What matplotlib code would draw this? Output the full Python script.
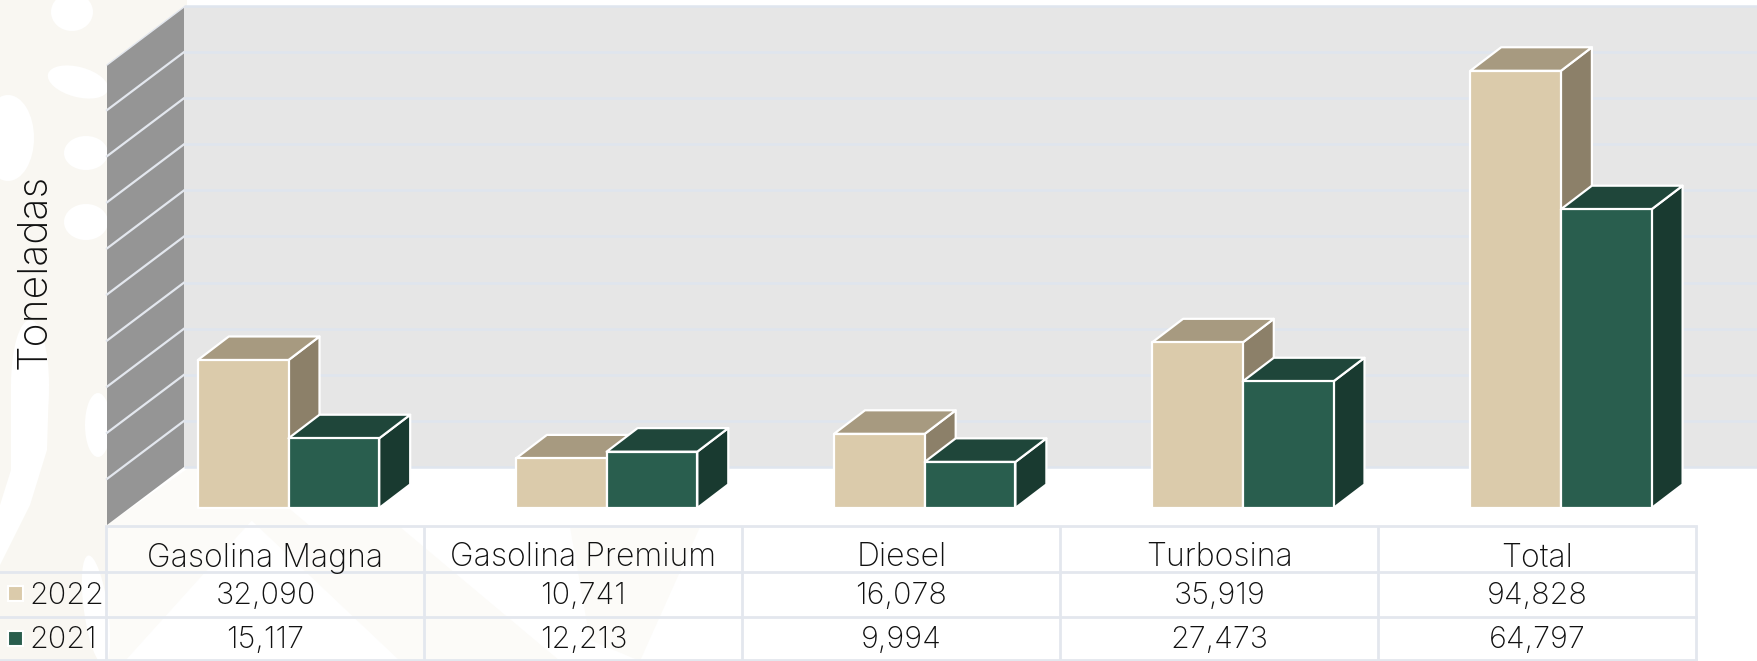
import matplotlib
matplotlib.use("Agg")
import matplotlib.pyplot as plt
from matplotlib.patches import Polygon, Rectangle, Ellipse

categories = ["Gasolina Magna", "Gasolina Premium", "Diesel", "Turbosina", "Total"]
series_2022 = [32090, 10741, 16078, 35919, 94828]
series_2021 = [15117, 12213, 9994, 27473, 64797]
series_names = ["2022", "2021"]
y_ticks = list(range(0, 100001, 10000))

W, H = 1758, 661
FONT = "Inter"
TXT = "#111111"
TAN, TAN_TOP, TAN_SIDE = "#dbcbab", "#a79a80", "#8c8069"
GRN, GRN_TOP, GRN_SIDE = "#295e4e", "#1f463a", "#193a30"
LINE = "#e3e7ee"
GRID = "#dfe5ee"
CREAM = "#f9f7f2"

fig = plt.figure(figsize=(W / 100, H / 100), dpi=100, facecolor="white")
bg = fig.add_axes([0, 0, 1, 1])
bg.set_xlim(0, W)
bg.set_ylim(H, 0)
bg.axis("off")

# faint watermark
bg.add_patch(Rectangle((0, 0), 107, H, fc=CREAM, ec="none", zorder=0))
bg.add_patch(Rectangle((107, 0), 80, 70, fc=CREAM, ec="none", zorder=0))
for poly in ([(107, 525), (190, 467), (300, 467), (125, 661), (107, 661)],
             [(300, 527), (400, 527), (560, 661), (460, 661)],
             [(195, 467), (240, 467), (470, 661), (400, 661)],
             [(570, 527), (700, 527), (640, 661), (590, 640)]):
    bg.add_patch(Polygon(poly, fc="#fcfbf8", ec="none", zorder=0))
# white shapes of the watermark
for (cx, cy, w, h, ang) in [(72, 12, 42, 38, 0), (78, 82, 62, 30, 15), (8, 138, 52, 86, 0),
                            (86, 153, 44, 34, 0), (86, 222, 44, 36, 0), (30, 385, 38, 130, 0),
                            (98, 425, 26, 64, 0), (96, 610, 24, 110, -8)]:
    bg.add_patch(Ellipse((cx, cy), w, h, angle=ang, fc="white", ec="none", zorder=0.5))
bg.add_patch(Polygon([(11, 385), (49, 385), (47, 450), (30, 505), (0, 565), (0, 505), (11, 470)],
                     fc="white", ec="none", zorder=0.5))

# back wall and side wall
PX = 461 / 100000
WALL_B, FRONT_B = 467, 525
bg.add_patch(Rectangle((184, WALL_B - 461), W - 184, 461, fc="#e6e6e6", ec="none", zorder=1))
bg.add_patch(Polygon([(107, FRONT_B - 461 + 1), (184, WALL_B - 461 + 1), (184, WALL_B), (107, FRONT_B)],
                     fc="#959595", ec="none", zorder=2))
for v in y_ticks:
    yb = WALL_B - v * PX
    yf = FRONT_B - v * PX
    bg.plot([184, W], [yb, yb], color=GRID, lw=1.8, zorder=1.5, solid_capstyle="butt")
    if 0 < v < 100000:
        bg.plot([107, 184], [yf, yb], color=LINE, lw=1.6, zorder=3)
bg.plot([107, 184], [FRONT_B - 460, WALL_B - 460], color=LINE, lw=1.0, zorder=3)

# bars in data coordinates
STEP = 318.1
x0 = 288.5 - 0.5 * STEP
x1 = x0 + 5 * STEP
ax = fig.add_axes([x0 / W, (H - 508) / H, (x1 - x0) / W, 461 / H])
ax.set_xlim(-0.5, 4.5)
ax.set_ylim(0, 100000)
ax.axis("off")
ax.patch.set_alpha(0)

BW = 90.7 / STEP
DX = 31 / STEP
DY = 23.6 / PX


def box(left, value, front, top, side, z):
    kw = dict(ec="white", lw=1.6, joinstyle="round", clip_on=False, zorder=z)
    r = left + BW
    ax.add_patch(Polygon([(r, 0), (r + DX, DY), (r + DX, value + DY), (r, value)], fc=side, **kw))
    ax.add_patch(Polygon([(left, value), (left + DX, value + DY), (r + DX, value + DY), (r, value)], fc=top, **kw))
    ax.add_patch(Rectangle((left, 0), BW, value, fc=front, **kw))


for i in range(len(categories)):
    box(i - BW, series_2022[i], TAN, TAN_TOP, TAN_SIDE, 3 + i)
    box(i, series_2021[i], GRN, GRN_TOP, GRN_SIDE, 3.5 + i)

# data table
cols = [106.5 + 318 * k for k in range(6)]
rows = [525.5, 571.5, 616.5, 660]
for x in cols:
    bg.plot([x, x], [rows[0], H], color=LINE, lw=2, zorder=4, solid_capstyle="butt")
bg.plot([cols[0], cols[-1]], [rows[0], rows[0]], color=LINE, lw=2, zorder=4)
for y in rows[1:]:
    bg.plot([0, cols[-1]], [y, y], color=LINE, lw=2, zorder=4)

FS_HEAD, FS_VAL = 23, 22
tk = dict(family=FONT, color=TXT, fontweight="light", ha="center", va="center", zorder=5)
for i, name in enumerate(categories):
    xc = (cols[i] + cols[i + 1]) / 2
    bg.text(xc, 558, name, fontsize=FS_HEAD, **tk)
    bg.text(xc, 596, f"{series_2022[i]:,}", fontsize=FS_VAL, **tk)
    bg.text(xc, 640, f"{series_2021[i]:,}", fontsize=FS_VAL, **tk)

for name, yc, col in zip(series_names, [593.5, 638.5], [TAN, GRN]):
    bg.add_patch(Rectangle((8.5, yc - 7.5), 15, 15, fc=col, ec="white", lw=1.5, zorder=5))
    bg.text(29, yc + 2, name, fontsize=FS_VAL, **{**tk, "ha": "left"})

bg.text(35, 271, "Toneladas", family=FONT, color=TXT, fontsize=29.5, fontweight="light",
        rotation=90, ha="center", va="center", zorder=5)

fig.savefig("out.png", dpi=100, facecolor="white")
